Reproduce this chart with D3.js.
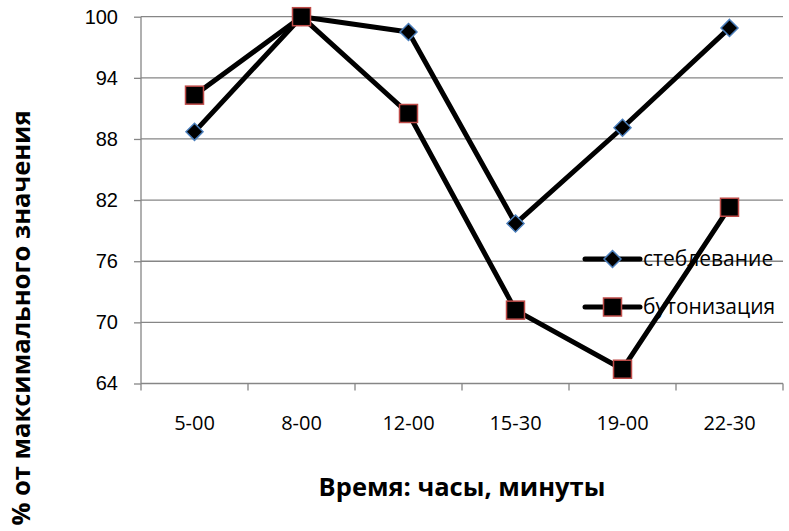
<!DOCTYPE html>
<html>
<head>
<meta charset="utf-8">
<script src="https://cdn.jsdelivr.net/npm/d3@7"></script>
<style>
  body { margin: 0; background: #fff; }
  svg { display: block; font-family: 'Open Sans', sans-serif; }
</style>
</head>
<body>
<div id="chart"></div>
<script>
// values
const categories = ['5-00', '8-00', '12-00', '15-30', '19-00', '22-30']
const steblevanie = [88.7, 100, 98.5, 79.7, 89.1, 98.9]
const butonizatsiya = [92.3, 100, 90.5, 71.2, 65.4, 81.3]
const yTicks = [64, 70, 76, 82, 88, 94, 100]
const seriesNames = ['стеблевание', 'бутонизация']

const width = 789
const height = 531
const plot = {left: 141, right: 783, top: 16.7, bottom: 383.5}

const svg = d3.select('#chart').append('svg')
    .attr('width', width)
    .attr('height', height)

const x = d3.scaleBand()
    .domain(categories)
    .range([plot.left, plot.right])

const y = d3.scaleLinear()
    .domain([64, 100])
    .range([plot.bottom, plot.top])

const axisColor = '#868686'

// gridlines
svg.append('g')
    .selectAll('line')
    .data(yTicks.filter(d => d !== 64))
    .enter().append('line')
    .attr('x1', plot.left)
    .attr('x2', plot.right)
    .attr('y1', d => y(d))
    .attr('y2', d => y(d))
    .attr('stroke', axisColor)
    .attr('stroke-width', 1.3)

// y axis
const yAxis = svg.append('g')
    .attr('transform', `translate(${plot.left},0)`)
    .call(d3.axisLeft(y).tickValues(yTicks).tickSize(7).tickPadding(16))
yAxis.selectAll('line, path').attr('stroke', axisColor).attr('stroke-width', 1.3)
yAxis.select('.domain').attr('d', `M0,${plot.top}V${plot.bottom}`)
yAxis.selectAll('text')
    .attr('fill', '#000')
    .style('font-size', '20px')

// x axis with ticks on the band edges
const xAxis = svg.append('g')
    .attr('transform', `translate(0,${plot.bottom})`)
xAxis.append('line')
    .attr('x1', plot.left)
    .attr('x2', plot.right)
    .attr('stroke', axisColor)
    .attr('stroke-width', 1.3)
const edges = categories.map(d => x(d)).concat([plot.right])
xAxis.selectAll('.tick')
    .data(edges)
    .enter().append('line')
    .attr('x1', d => d)
    .attr('x2', d => d)
    .attr('y1', 0)
    .attr('y2', 7)
    .attr('stroke', axisColor)
    .attr('stroke-width', 1.3)
xAxis.selectAll('text')
    .data(categories)
    .enter().append('text')
    .attr('x', d => x(d) + x.bandwidth() / 2)
    .attr('y', 46)
    .attr('text-anchor', 'middle')
    .style('font-size', '20px')
    .text(d => d)

// axis titles
svg.append('text')
    .attr('transform', `translate(30,${318}) rotate(-90)`)
    .attr('text-anchor', 'middle')
    .style('font-size', '25.5px')
    .style('font-weight', 'bold')
    .text('% от максимального значения')

svg.append('text')
    .attr('x', 462)
    .attr('y', 496)
    .attr('text-anchor', 'middle')
    .style('font-size', '25.5px')
    .style('font-weight', 'bold')
    .text('Время: часы, минуты')

function drawMarker (g, type, cx, cy) {
    if (type === 'diamond') {
        g.append('path')
            .attr('d', `M${cx},${cy - 8.5}L${cx + 8.5},${cy}L${cx},${cy + 8.5}L${cx - 8.5},${cy}Z`)
            .attr('fill', '#000')
            .attr('stroke', '#4a7ebb')
            .attr('stroke-width', 1.5)
    } else {
        g.append('rect')
            .attr('x', cx - 9)
            .attr('y', cy - 9)
            .attr('width', 18)
            .attr('height', 18)
            .attr('fill', '#000')
            .attr('stroke', '#be4b48')
            .attr('stroke-width', 1.5)
    }
}

// legend (the series lines pass over it in the original)
const legend = svg.append('g')
const legendRows = [
    {name: seriesNames[0], type: 'diamond', y: 259},
    {name: seriesNames[1], type: 'square', y: 307}
]
legendRows.forEach(r => {
    legend.append('line')
        .attr('x1', 585)
        .attr('x2', 640)
        .attr('y1', r.y)
        .attr('y2', r.y)
        .attr('stroke', '#000')
        .attr('stroke-width', 5)
        .attr('stroke-linecap', 'round')
    drawMarker(legend, r.type, 612.5, r.y)
    legend.append('text')
        .attr('x', 643)
        .attr('y', r.y)
        .attr('dy', '0.35em')
        .style('font-size', '21px')
        .text(r.name)
})

const line = d3.line()
    .x((d, i) => x(categories[i]) + x.bandwidth() / 2)
    .y(d => y(d))

const series = [
    {values: steblevanie, type: 'diamond'},
    {values: butonizatsiya, type: 'square'}
]
series.forEach(s => {
    const g = svg.append('g')
    g.append('path')
        .datum(s.values)
        .attr('d', line)
        .attr('fill', 'none')
        .attr('stroke', '#000')
        .attr('stroke-width', 5)
        .attr('stroke-linejoin', 'round')
    s.values.forEach((v, i) => {
        drawMarker(g, s.type, x(categories[i]) + x.bandwidth() / 2, y(v))
    })
})
</script>
</body>
</html>
